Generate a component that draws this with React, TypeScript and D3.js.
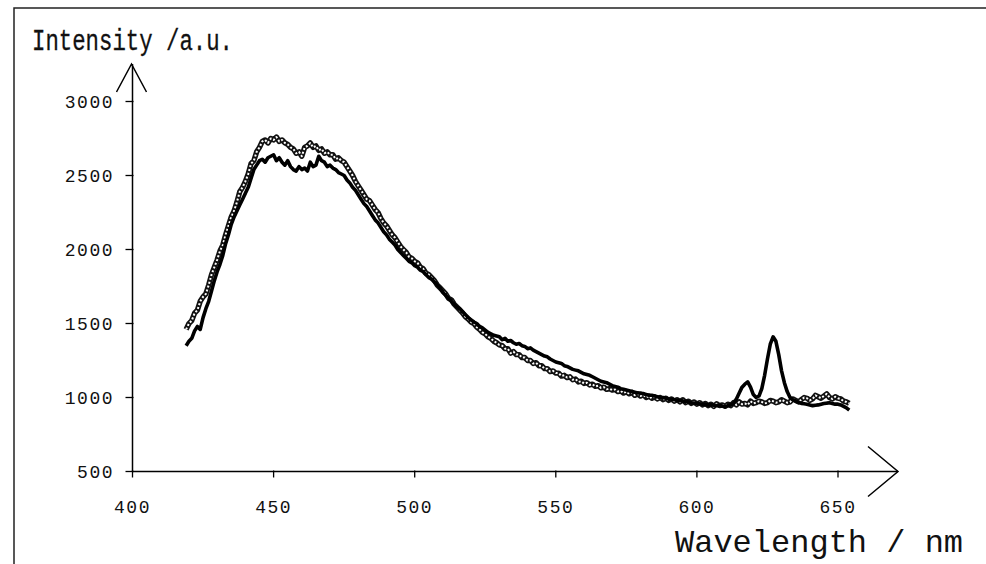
import React from "react";
import * as d3 from "d3";

// wavelength (nm), intensity (a.u.) — solid (thick black) spectrum
const solidSeries: [number, number][] = [
  [419, 1350], [420, 1380], [421, 1400], [422, 1450], [423, 1480], [424, 1460], [425, 1540],
  [426, 1600], [427, 1650], [428, 1720], [429, 1790], [430, 1850], [431, 1900], [432, 1960],
  [433, 2040], [434, 2100], [435, 2170], [436, 2220], [437, 2260], [438, 2300], [439, 2340],
  [440, 2380], [441, 2420], [442, 2480], [443, 2540], [444, 2570], [445, 2600], [446, 2610],
  [447, 2590], [448, 2620], [449, 2630], [450, 2640], [451, 2600], [452, 2620], [453, 2590],
  [454, 2570], [455, 2600], [456, 2560], [457, 2540], [458, 2530], [459, 2560], [460, 2540],
  [461, 2550], [462, 2530], [463, 2590], [464, 2560], [465, 2570], [466, 2630], [467, 2600],
  [468, 2590], [469, 2560], [470, 2570], [471, 2550], [472, 2540], [473, 2520], [474, 2510],
  [475, 2500], [476, 2470], [477, 2450], [478, 2420], [479, 2400], [480, 2370], [481, 2340],
  [482, 2310], [483, 2290], [484, 2260], [485, 2230], [486, 2200], [487, 2180], [488, 2150],
  [489, 2120], [490, 2100], [491, 2070], [492, 2050], [493, 2030], [494, 2000], [495, 1980],
  [496, 1960], [497, 1940], [498, 1920], [499, 1910], [500, 1890], [501, 1880], [502, 1860],
  [503, 1850], [504, 1830], [505, 1810], [506, 1800], [507, 1780], [508, 1760], [509, 1740],
  [510, 1710], [511, 1690], [512, 1670], [513, 1650], [514, 1630], [515, 1610], [516, 1600],
  [517, 1580], [518, 1560], [519, 1540], [520, 1525], [521, 1510], [522, 1500], [523, 1480],
  [524, 1470], [525, 1455], [526, 1440], [527, 1430], [528, 1420], [529, 1415], [530, 1410],
  [531, 1390], [532, 1400], [533, 1380], [534, 1385], [535, 1370], [536, 1360], [537, 1365],
  [538, 1350], [539, 1345], [540, 1330], [541, 1335], [542, 1320], [543, 1310], [544, 1300],
  [545, 1290], [546, 1280], [547, 1275], [548, 1260], [549, 1250], [550, 1240], [551, 1235],
  [552, 1230], [553, 1215], [554, 1210], [555, 1200], [556, 1190], [557, 1185], [558, 1180],
  [559, 1170], [560, 1160], [561, 1155], [562, 1150], [563, 1140], [564, 1130], [565, 1120],
  [566, 1110], [567, 1105], [568, 1100], [569, 1090], [570, 1080], [571, 1075], [572, 1070],
  [573, 1060], [574, 1055], [575, 1050], [576, 1045], [577, 1040], [578, 1035], [579, 1030],
  [580, 1030], [581, 1025], [582, 1020], [583, 1015], [584, 1015], [585, 1010], [586, 1005],
  [587, 1000], [588, 1000], [589, 995], [590, 990], [591, 988], [592, 985], [593, 982],
  [594, 980], [595, 975], [596, 975], [597, 970], [598, 965], [599, 962], [600, 960],
  [601, 958], [602, 955], [603, 952], [604, 950], [605, 950], [606, 948], [607, 946],
  [608, 945], [609, 942], [610, 940], [611, 945], [612, 950], [613, 960], [614, 990],
  [615, 1030], [616, 1070], [617, 1090], [618, 1105], [619, 1070], [620, 1020], [621, 1000],
  [622, 1010], [623, 1060], [624, 1150], [625, 1260], [626, 1360], [627, 1410], [628, 1380],
  [629, 1290], [630, 1180], [631, 1100], [632, 1040], [633, 1000], [634, 985], [635, 975],
  [636, 968], [637, 960], [638, 958], [639, 955], [640, 950], [641, 945], [642, 948],
  [643, 950], [644, 955], [645, 960], [646, 962], [647, 965], [648, 960], [649, 955],
  [650, 955], [651, 950], [652, 940], [653, 930], [654, 915],
];

// wavelength (nm), intensity (a.u.) — checkered (hatched) spectrum
const hatchedSeries: [number, number][] = [
  [419, 1460], [420, 1500], [421, 1520], [422, 1570], [423, 1590], [424, 1650], [425, 1680],
  [426, 1700], [427, 1760], [428, 1830], [429, 1880], [430, 1930], [431, 1990], [432, 2030],
  [433, 2100], [434, 2160], [435, 2220], [436, 2260], [437, 2320], [438, 2390], [439, 2420],
  [440, 2460], [441, 2510], [442, 2580], [443, 2600], [444, 2660], [445, 2690], [446, 2730],
  [447, 2740], [448, 2720], [449, 2750], [450, 2740], [451, 2760], [452, 2730], [453, 2740],
  [454, 2720], [455, 2710], [456, 2690], [457, 2680], [458, 2650], [459, 2660], [460, 2630],
  [461, 2690], [462, 2700], [463, 2720], [464, 2690], [465, 2700], [466, 2670], [467, 2680],
  [468, 2650], [469, 2660], [470, 2640], [471, 2640], [472, 2610], [473, 2620], [474, 2600],
  [475, 2590], [476, 2560], [477, 2530], [478, 2500], [479, 2460], [480, 2430], [481, 2400],
  [482, 2370], [483, 2340], [484, 2330], [485, 2300], [486, 2270], [487, 2250], [488, 2210],
  [489, 2180], [490, 2160], [491, 2130], [492, 2100], [493, 2080], [494, 2050], [495, 2020],
  [496, 2000], [497, 1980], [498, 1950], [499, 1940], [500, 1920], [501, 1910], [502, 1880],
  [503, 1870], [504, 1840], [505, 1830], [506, 1810], [507, 1790], [508, 1760], [509, 1740],
  [510, 1720], [511, 1700], [512, 1670], [513, 1660], [514, 1630], [515, 1610], [516, 1590],
  [517, 1570], [518, 1545], [519, 1530], [520, 1510], [521, 1500], [522, 1475], [523, 1460],
  [524, 1440], [525, 1430], [526, 1410], [527, 1400], [528, 1380], [529, 1370], [530, 1355],
  [531, 1350], [532, 1330], [533, 1330], [534, 1300], [535, 1310], [536, 1290], [537, 1290],
  [538, 1270], [539, 1270], [540, 1250], [541, 1250], [542, 1230], [543, 1235], [544, 1215],
  [545, 1215], [546, 1195], [547, 1195], [548, 1175], [549, 1180], [550, 1165], [551, 1165],
  [552, 1145], [553, 1150], [554, 1135], [555, 1140], [556, 1120], [557, 1125], [558, 1105],
  [559, 1110], [560, 1095], [561, 1100], [562, 1085], [563, 1090], [564, 1075], [565, 1080],
  [566, 1065], [567, 1070], [568, 1055], [569, 1060], [570, 1050], [571, 1055], [572, 1040],
  [573, 1045], [574, 1030], [575, 1040], [576, 1025], [577, 1035], [578, 1015], [579, 1025],
  [580, 1010], [581, 1020], [582, 1000], [583, 1010], [584, 995], [585, 1005], [586, 990],
  [587, 1000], [588, 985], [589, 995], [590, 980], [591, 990], [592, 975], [593, 985],
  [594, 970], [595, 985], [596, 965], [597, 975], [598, 960], [599, 970], [600, 955],
  [601, 965], [602, 950], [603, 960], [604, 945], [605, 955], [606, 940], [607, 958],
  [608, 945], [609, 950], [610, 940], [611, 955], [612, 945], [613, 965], [614, 950],
  [615, 970], [616, 955], [617, 960], [618, 950], [619, 975], [620, 960], [621, 965],
  [622, 975], [623, 970], [624, 960], [625, 965], [626, 980], [627, 975], [628, 965],
  [629, 970], [630, 985], [631, 975], [632, 965], [633, 970], [634, 990], [635, 980],
  [636, 970], [637, 985], [638, 1000], [639, 995], [640, 980], [641, 990], [642, 1015],
  [643, 1005], [644, 995], [645, 1010], [646, 1025], [647, 1000], [648, 990], [649, 1005],
  [650, 995], [651, 990], [652, 975], [653, 970], [654, 960],
];

const xTicks = [400, 450, 500, 550, 600, 650];
const yTicks = [500, 1000, 1500, 2000, 2500, 3000];
const yTitle = "Intensity /a.u.";
const xTitle = "Wavelength / nm";

const W = 986;
const H = 564;
const FONT = "'Liberation Mono', 'Courier New', monospace";

export default function App() {
  const x = d3.scaleLinear().domain([400, 650]).range([132.5, 838]);
  const y = d3.scaleLinear().domain([500, 3000]).range([471.5, 101.5]);
  const line = d3
    .line<[number, number]>()
    .x((d) => x(d[0]))
    .y((d) => y(d[1]));

  const x0 = x(400);
  const y0 = y(500);
  const xEnd = 898;
  const yTop = 64;

  return (
    <svg
      width={W}
      height={H}
      viewBox={`0 0 ${W} ${H}`}
      style={{ position: "absolute", left: 0, top: 0, background: "#fff" }}
    >
      {/* frame */}
      <path d={`M14,${H} L14,8 L${W},8`} fill="none" stroke="#222" strokeWidth={1.5} />

      {/* hatched series */}
      <path d={line(hatchedSeries) || ""} fill="none" stroke="#111" strokeWidth={5.4} strokeLinejoin="round" />
      <path
        d={line(hatchedSeries) || ""}
        fill="none"
        stroke="#fff"
        strokeWidth={2}
        strokeDasharray="2 2"
        strokeLinejoin="round"
      />

      {/* solid series */}
      <path d={line(solidSeries) || ""} fill="none" stroke="#000" strokeWidth={3.6} strokeLinejoin="round" />

      {/* axes */}
      <line x1={x0} y1={y0} x2={xEnd} y2={y0} stroke="#000" strokeWidth={1.5} />
      <line x1={x0} y1={y0} x2={x0} y2={yTop} stroke="#000" strokeWidth={1.5} />
      {/* arrows */}
      <path d={`M${xEnd - 30},${y0 - 25} L${xEnd},${y0} L${xEnd - 30},${y0 + 25}`} fill="none" stroke="#000" strokeWidth={1.5} />
      <path d={`M${x0 - 16},${yTop + 28} L${x0 - 1},${yTop} L${x0 + 14},${yTop + 28}`} fill="none" stroke="#000" strokeWidth={1.5} />

      {/* x ticks */}
      {xTicks.map((t) => (
        <g key={"x" + t}>
          <line x1={x(t)} y1={y0 - 1} x2={x(t)} y2={y0 + 6} stroke="#000" strokeWidth={1.3} />
          <text
            x={x(t)}
            y={513}
            textAnchor="middle"
            fontFamily={FONT}
            fontSize={18}
            letterSpacing={1.5}
            fill="#111"
          >
            {t}
          </text>
        </g>
      ))}

      {/* y ticks */}
      {yTicks.map((t) => (
        <g key={"y" + t}>
          <line x1={x0 - 7} y1={y(t)} x2={x0 + 1} y2={y(t)} stroke="#000" strokeWidth={1.3} />
          <text
            x={114}
            y={y(t) + 6}
            textAnchor="end"
            fontFamily={FONT}
            fontSize={18}
            letterSpacing={1.5}
            fill="#111"
          >
            {t}
          </text>
        </g>
      ))}

      {/* titles */}
      <text
        x={32}
        y={50}
        fontFamily={FONT}
        fontSize={30}
        textLength={201}
        lengthAdjust="spacingAndGlyphs"
        fill="#111"
        stroke="#111"
        strokeWidth={0.3}
      >
        {yTitle}
      </text>
      <text x={675} y={552} fontFamily={FONT} fontSize={32} fill="#111">
        {xTitle}
      </text>
    </svg>
  );
}
